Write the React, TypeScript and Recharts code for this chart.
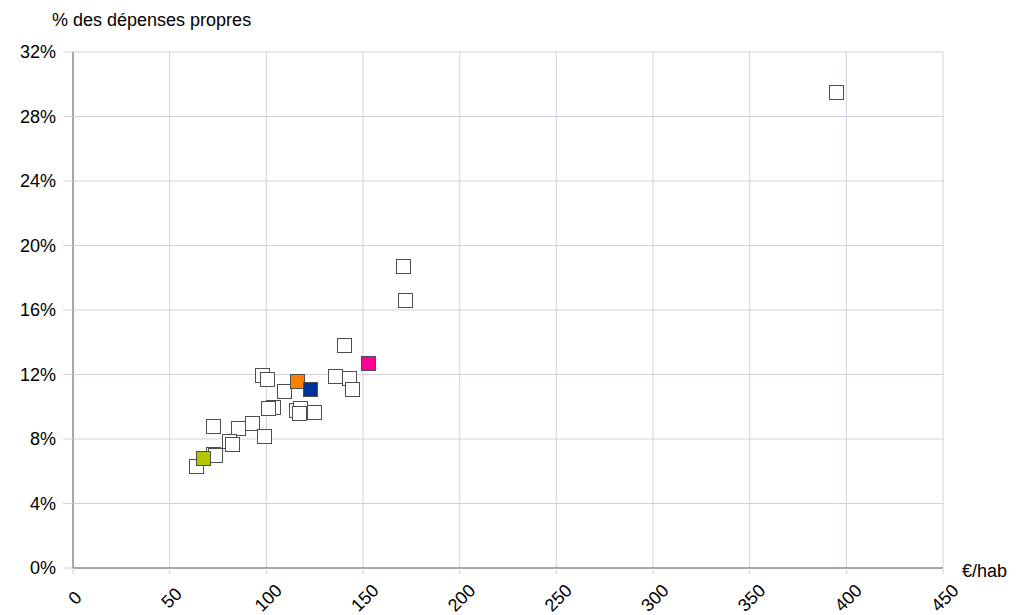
import { CartesianGrid, Scatter, ScatterChart, XAxis, YAxis } from 'recharts'

const xTicks = [0, 50, 100, 150, 200, 250, 300, 350, 400, 450]
const yTicks = [0, 4, 8, 12, 16, 20, 24, 28, 32]

// other communes: €/hab and % des dépenses propres
const otherEuros = [394.5, 170.7, 171.8, 140.1, 98.0, 100.6, 108.9, 135.4, 142.7, 144.5, 103.2, 101.1, 115.3, 117.5, 117.1, 124.4, 72.4, 92.7, 85.6, 99.0, 80.9, 82.2, 72.2, 73.6, 63.4]
const otherPct = [29.5, 18.7, 16.6, 13.8, 12.0, 11.7, 11.0, 11.9, 11.8, 11.1, 10.0, 9.9, 9.8, 9.9, 9.6, 9.7, 8.8, 9.0, 8.7, 8.2, 7.9, 7.7, 7.1, 7.0, 6.3]

// highlighted points
const highlightEuros = [115.9, 122.5, 152.8, 67.0]
const highlightPct = [11.6, 11.1, 12.7, 6.8]
const highlightColors = ['#ff7f00', '#003399', '#ff0099', '#b3c800']

const grid = '#d0d0e0'
const font = '"Liberation Sans", Arial, sans-serif'

const others = otherEuros.map((x, i) => ({ x, y: otherPct[i] }))
const highlights = highlightEuros.map((x, i) => ({ x, y: highlightPct[i], color: highlightColors[i] }))

const square = (fill: string) => (props: any) => (
  <rect
    x={Math.round(props.cx) - 6.5}
    y={Math.round(props.cy) - 6.5}
    width={14}
    height={14}
    fill={fill}
    stroke="#4d4d4d"
    strokeWidth={1}
  />
)

const XTick = (props: any) => {
  const { x, y, payload } = props
  return (
    <text
      transform={`translate(${x + 2},${y + 22}) rotate(-45)`}
      textAnchor="middle"
      dominantBaseline="central"
      fontSize={18}
      fontFamily={font}
      fill="#000"
    >
      {payload.value}
    </text>
  )
}

export default function App() {
  return (
    <div style={{ position: 'absolute', left: 0, top: 0, background: '#fff' }}>
      <ScatterChart width={1033} height={615} margin={{ top: 52, right: 90, bottom: 0, left: 13 }}>
        <CartesianGrid stroke={grid} strokeWidth={1} />
        <XAxis
          type="number"
          dataKey="x"
          domain={[0, 450]}
          ticks={xTicks}
          interval={0}
          height={47}
          tickSize={6}
          tickLine={{ stroke: grid }}
          axisLine={{ stroke: '#666' }}
          tick={<XTick />}
          label={{
            content: (p: any) => (
              <text x={962} y={577} fontSize={18} fontFamily={font} fill="#000">
                €/hab
              </text>
            ),
          }}
        />
        <YAxis
          type="number"
          dataKey="y"
          domain={[0, 32]}
          ticks={yTicks}
          interval={0}
          width={60}
          tickSize={10}
          tickMargin={7}
          tickLine={{ stroke: grid }}
          axisLine={{ stroke: '#666' }}
          tick={{ fontSize: 18, fontFamily: font, fill: '#000' }}
          tickFormatter={(v: number) => `${v}%`}
          label={{
            content: (p: any) => (
              <text x={52} y={26} fontSize={18} fontFamily={font} fill="#000">
                % des dépenses propres
              </text>
            ),
          }}
        />
        <Scatter data={others} shape={square('#ffffff')} isAnimationActive={false} />
        {highlights.map((h, i) => (
          <Scatter key={i} data={[h]} shape={square(h.color)} isAnimationActive={false} />
        ))}
      </ScatterChart>
    </div>
  )
}
